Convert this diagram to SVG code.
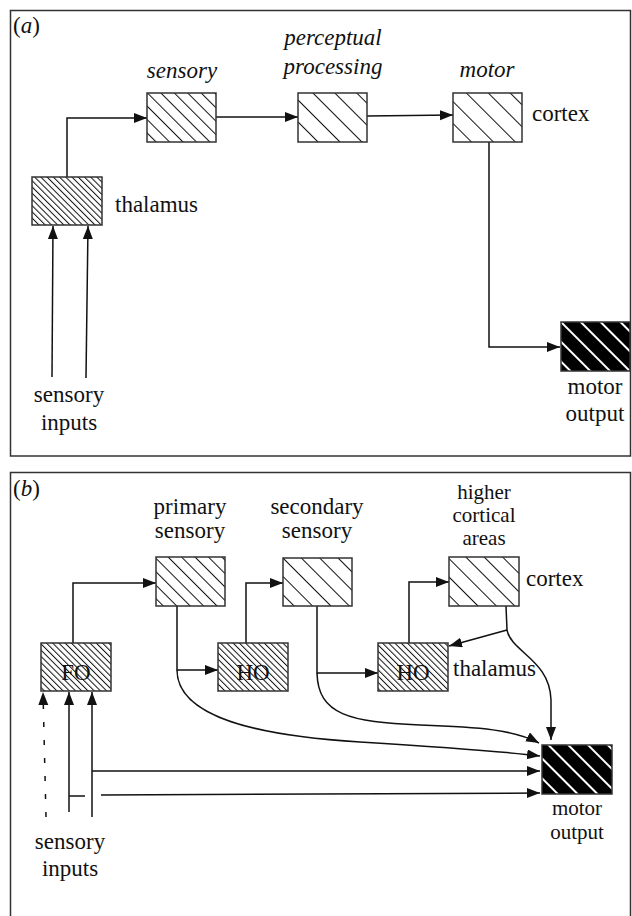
<svg xmlns="http://www.w3.org/2000/svg" width="632" height="916" viewBox="0 0 632 916">
<style>
text{font-family:"Liberation Serif","Times New Roman",serif;font-size:23px;fill:#111}
.it{font-style:italic}
.mid{text-anchor:middle}
.sm{font-size:21px}
.box{stroke:#333;stroke-width:1.5}
.ln{fill:none;stroke:#111;stroke-width:1.5}
.ar{fill:none;stroke:#111;stroke-width:1.5;marker-end:url(#ah)}
.frame{fill:none;stroke:#333;stroke-width:1.5}
</style>
<defs>
<marker id="ah" markerUnits="userSpaceOnUse" markerWidth="14" markerHeight="12" refX="13" refY="5" orient="auto"><path d="M0,0 L13,5 L0,10 z" fill="#111"/></marker>
<pattern id="p4" patternUnits="userSpaceOnUse" width="4.4" height="10" patternTransform="rotate(-45)"><rect width="4.4" height="10" fill="#fff"/><line x1="0.5" y1="0" x2="0.5" y2="10" stroke="#111" stroke-width="1"/></pattern>
<pattern id="p9" patternUnits="userSpaceOnUse" width="9.5" height="10" patternTransform="rotate(-45)"><rect width="9.5" height="10" fill="#fff"/><line x1="0.5" y1="0" x2="0.5" y2="10" stroke="#111" stroke-width="1"/></pattern>
<pattern id="p13" patternUnits="userSpaceOnUse" width="13" height="10" patternTransform="rotate(-45)"><rect width="13" height="10" fill="#fff"/><line x1="0.5" y1="0" x2="0.5" y2="10" stroke="#111" stroke-width="1"/></pattern>
<pattern id="p15" patternUnits="userSpaceOnUse" width="15.5" height="10" patternTransform="rotate(-45)"><rect width="15.5" height="10" fill="#fff"/><line x1="0.5" y1="0" x2="0.5" y2="10" stroke="#111" stroke-width="1"/></pattern>
<pattern id="pm" patternUnits="userSpaceOnUse" width="14" height="10" patternTransform="rotate(-45)"><rect width="14" height="10" fill="#000"/><line x1="1" y1="0" x2="1" y2="10" stroke="#fff" stroke-width="2"/></pattern>
</defs>

<g id="panel-a-frame"><path class="frame" d="M10.5,456 V10.5 H630.5 V456 Z"/></g>
<g id="panel-b-frame"><path class="frame" d="M10.5,920 V472.5 H630.5 V920"/></g>

<g id="connectors">
<path class="ar" d="M67,177 V118 H147"/>
<path class="ar" d="M216,117 H298"/>
<path class="ar" d="M367,116 L453,115"/>
<path class="ar" d="M489,142 V347 H560"/>
<path class="ar" d="M52,377 L53,226"/>
<path class="ar" d="M86,378 L88,226"/>
<path class="ar" d="M73,643 V583 H156"/>
<path class="ar" d="M246,643 V583 H283"/>
<path class="ar" d="M409,643 V582 H449"/>
<path class="ar" d="M177,606 V670 H218"/>
<path class="ar" d="M177,670 C177,718 260,736 360,742 C440,747 500,751 540,756"/>
<path class="ar" d="M317,606 V673 H378"/>
<path class="ar" d="M317,673 C318,715 350,722 420,725 C480,727 515,730 539,743"/>
<path class="ln" d="M506,606 L507,630"/>
<path class="ar" d="M507,630 L449,646"/>
<path class="ar" d="M507,630 C511,652 550,660 551,700 L551,740"/>
<path class="ar" d="M46,817 L43,692" stroke-dasharray="5,13"/>
<path class="ar" d="M69,812 V692"/>
<path class="ar" d="M92,817 V692"/>
<path class="ar" d="M92,771 H540"/>
<path class="ln" d="M69,796 H85"/>
<path class="ar" d="M101,795 L540,793"/>
</g>

<g id="label-a"><text x="13" y="33">(<tspan class="it">a</tspan>)</text></g>
<g id="sensory-a"><rect class="box" x="147" y="93" width="69" height="49" fill="url(#p9)"/><text class="it mid" x="182" y="78">sensory</text></g>
<g id="perceptual-a"><rect class="box" x="298" y="93" width="69" height="49" fill="url(#p15)"/><text class="it mid" x="333" y="45">perceptual</text><text class="it mid" x="333" y="74">processing</text></g>
<g id="motor-a"><rect class="box" x="453" y="93" width="69" height="49" fill="url(#p15)"/><text class="it mid" x="487" y="77">motor</text><text x="532" y="121">cortex</text></g>
<g id="thalamus-a"><rect class="box" x="32" y="177" width="70" height="48" fill="url(#p4)"/><text x="115" y="212">thalamus</text></g>
<g id="motor-output-a"><rect class="box" x="561" y="322" width="69" height="49" fill="url(#pm)"/><text class="mid" x="595" y="394">motor</text><text class="mid" x="595" y="421">output</text></g>
<g id="inputs-a"><text class="mid" x="69" y="402">sensory</text><text class="mid" x="69" y="430">inputs</text></g>

<g id="label-b"><text x="13" y="496">(<tspan class="it">b</tspan>)</text></g>
<g id="primary-b"><rect class="box" x="156" y="557" width="69" height="49" fill="url(#p9)"/><text class="mid" x="190" y="514">primary</text><text class="mid" x="190" y="538">sensory</text></g>
<g id="secondary-b"><rect class="box" x="283" y="558" width="69" height="48" fill="url(#p13)"/><text class="mid" x="317" y="514">secondary</text><text class="mid" x="317" y="538">sensory</text></g>
<g id="higher-b"><rect class="box" x="449" y="557" width="70" height="49" fill="url(#p13)"/><text class="mid sm" x="484" y="499">higher</text><text class="mid sm" x="484" y="522">cortical</text><text class="mid sm" x="484" y="545">areas</text><text x="526" y="586">cortex</text></g>
<g id="fo-b"><rect class="box" x="41" y="643" width="70" height="48" fill="url(#p4)"/><text class="mid" x="76" y="680">FO</text></g>
<g id="ho1-b"><rect class="box" x="218" y="643" width="70" height="48" fill="url(#p4)"/><text class="mid" x="253" y="680">HO</text></g>
<g id="ho2-b"><rect class="box" x="378" y="643" width="70" height="48" fill="url(#p4)"/><text class="mid" x="413" y="680">HO</text><text x="453" y="676">thalamus</text></g>
<g id="motor-output-b"><rect class="box" x="542" y="745" width="70" height="49" fill="url(#pm)"/><text class="mid sm" x="577" y="815">motor</text><text class="mid sm" x="577" y="839">output</text></g>
<g id="inputs-b"><text class="mid" x="70" y="849">sensory</text><text class="mid" x="70" y="876">inputs</text></g>
</svg>
